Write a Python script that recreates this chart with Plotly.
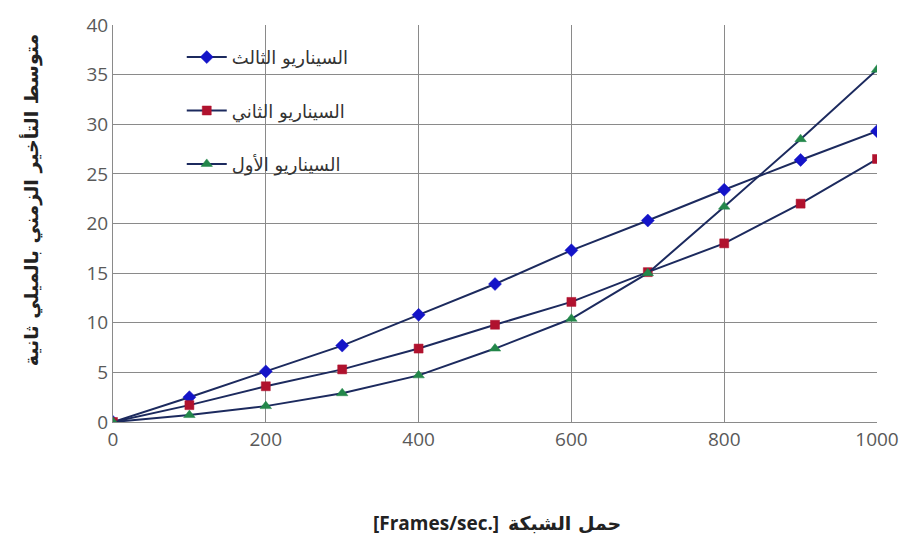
import plotly.graph_objects as go

# Network load (frames/sec)
load = [0, 100, 200, 300, 400, 500, 600, 700, 800, 900, 1000]

# Mean delay (ms) per scenario
scenario_3 = [0, 2.5, 5.1, 7.7, 10.8, 13.9, 17.3, 20.3, 23.4, 26.4, 29.3]
scenario_2 = [0, 1.7, 3.6, 5.3, 7.4, 9.8, 12.1, 15.1, 18.0, 22.0, 26.5]
scenario_1 = [0, 0.7, 1.6, 2.9, 4.7, 7.4, 10.4, 15.0, 21.7, 28.5, 35.5]

names = ["السيناريو الثالث", "السيناريو الثاني", "السيناريو الأول"]
series = [scenario_3, scenario_2, scenario_1]
symbols = ["diamond", "square", "triangle-up"]
colors = ["#1414c8", "#b0122e", "#23874a"]
sizes = [10, 9, 10]

x_ticks = [0, 200, 400, 600, 800, 1000]
y_ticks = [0, 5, 10, 15, 20, 25, 30, 35, 40]

x_title_unit = "[Frames/sec.]"
x_title_ar = "حمل الشبكة"
y_title = "متوسط التأخير الزمني بالميلي ثانية"

LINE = "#1c2a5e"
ARABIC = "DejaVu Sans"

fig = go.Figure()
for i, (name, ys) in enumerate(zip(names, series)):
    fig.add_trace(go.Scatter(
        x=load, y=ys, name=name, mode="lines+markers",
        legendgroup=f"g{i}",
        line=dict(color=LINE, width=2),
        marker=dict(symbol=symbols[i], size=sizes[i], color=colors[i],
                    line=dict(color=colors[i], width=0.5)),
    ))

fig.update_layout(
    width=911, height=536,
    margin=dict(l=113, r=30, t=18, b=114),
    paper_bgcolor="white", plot_bgcolor="white",
    showlegend=True,
    legend=dict(x=0.09, y=0.965, xanchor="left", yanchor="top",
                bgcolor="rgba(255,255,255,0)", tracegroupgap=27,
                font=dict(family=ARABIC, size=18, color="#333333"),
                itemwidth=40),
    xaxis=dict(range=[0, 1000], tickvals=x_ticks, showgrid=True,
               gridcolor="#8a8a8a", gridwidth=1, zeroline=False,
               showline=True, linecolor="#8a8a8a", mirror=False,
               ticks="", ticklen=0,
               tickfont=dict(family="Open Sans", size=19, color="#595959")),
    yaxis=dict(range=[0, 40], tickvals=y_ticks, showgrid=True,
               gridcolor="#8a8a8a", gridwidth=1, zeroline=False,
               showline=True, linecolor="#8a8a8a",
               ticks="", ticklen=0,
               tickfont=dict(family="Open Sans", size=19, color="#595959")),
    annotations=[
        # x-axis title: unit on the left, Arabic label on the right
        dict(text=f"<b>{x_title_unit}</b>", xref="paper", yref="paper",
             x=0.508, y=-0.255, xanchor="right", yanchor="middle",
             showarrow=False,
             font=dict(family="Open Sans", size=19, color="#222222")),
        dict(text=f"<b>{x_title_ar}</b>", xref="paper", yref="paper",
             x=0.514, y=-0.255, xanchor="left", yanchor="middle",
             showarrow=False,
             font=dict(family=ARABIC, size=19, color="#222222")),
        dict(text=f"<b>{y_title}</b>", xref="paper",
             yref="paper", x=-0.108, y=0.56, xanchor="center", yanchor="middle",
             textangle=-90, showarrow=False,
             font=dict(family=ARABIC, size=19, color="#222222")),
    ],
)

fig.write_html("out.html")
